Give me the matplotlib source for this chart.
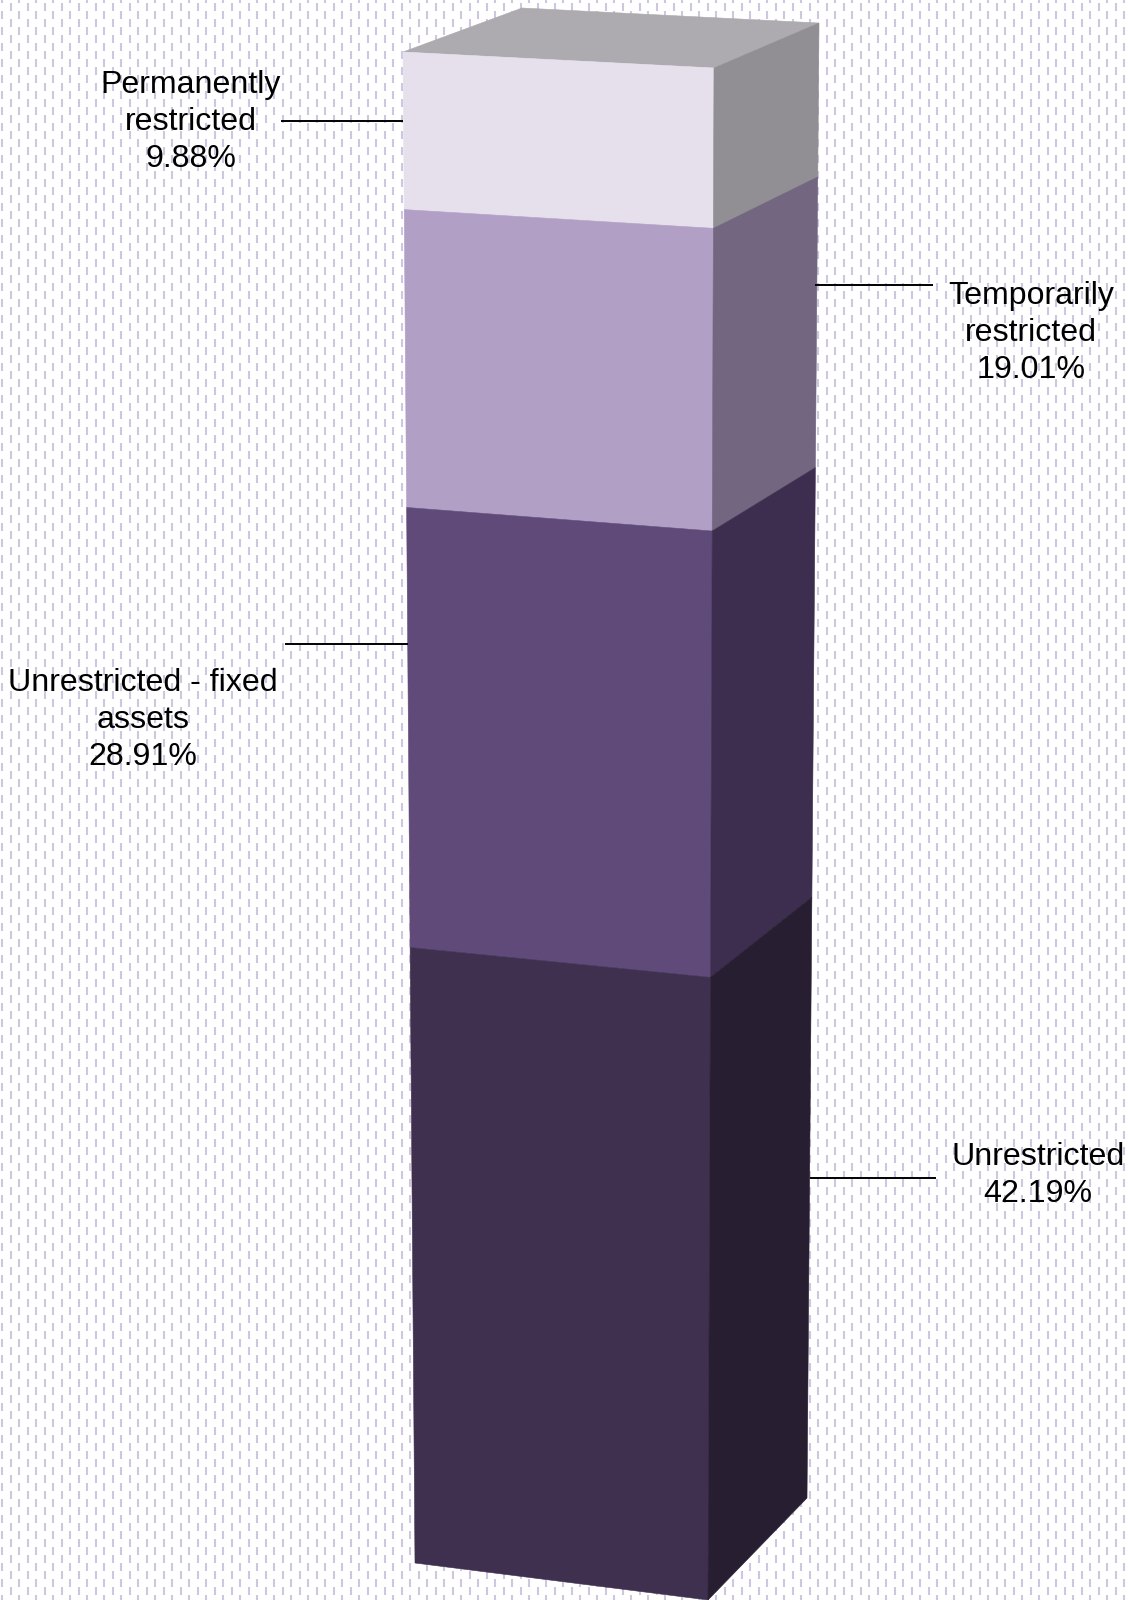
import matplotlib
matplotlib.use('Agg')
import matplotlib.pyplot as plt
from matplotlib.collections import LineCollection
from matplotlib.patches import Polygon

plt.rcParams['font.family'] = ['Liberation Sans', 'DejaVu Sans']

# top to bottom, same order as the column
labels = ['Permanently\nrestricted', 'Temporarily\nrestricted', 'Unrestricted - fixed\nassets', 'Unrestricted']
values = [9.88, 19.01, 28.91, 42.19]
front_colors = ['#E6E0ED', '#B19FC5', '#5F4A7A', '#3F3050']
side_colors = ['#918E94', '#726680', '#3D2D4E', '#271E32']

# pixel positions of the column edges (top point, bottom point, perspective)
front_left = ((403, 52), (415, 1563), 0.062)
front_right = ((714, 68), (708, 1600), 0.066)
back_right = ((819, 23), (807, 1498), 0.062)
back_left = (522, 8)

# label centre x and top y, leader line
label_pos = [(191, 70), (1031, 281), (143, 668), (1038, 1142)]
leaders = [((281, 120.5), (403, 120.5)), ((815, 285), (933, 285)),
           ((285, 644), (408, 644)), ((810, 1178), (936, 1178))]


def edge_point(edge, t):
    # t is the share of the total from the top, nearer values look bigger
    (x0, y0), (x1, y1), c = edge
    s = t * (1 + c) / (1 + c * t)
    return (x0 + (x1 - x0) * s, y0 + (y1 - y0) * s)


def add_face(points, color, zorder=3):
    ax.add_patch(Polygon(points, closed=True, facecolor=color, edgecolor=color,
                         linewidth=0.4, zorder=zorder))


fig = plt.figure(figsize=(11.29, 16), dpi=100, facecolor='white')
ax = fig.add_axes([0, 0, 1, 1])
ax.set_xlim(0, 1129)
ax.set_ylim(1600, 0)
ax.axis('off')

# dashed wallpaper behind everything
dashes = []
for col in range(0, 134):
    x = 2 + col * 8.5
    offset = 3 if col % 2 == 1 else 11
    for row in range(-1, 101):
        y = offset + row * 16
        dashes.append([(x, y), (x, y + 8)])
ax.add_collection(LineCollection(dashes, colors='#CFC6E0', linewidths=1.5, zorder=1))

# top of the column
add_face([front_left[0], back_left, back_right[0], front_right[0]], '#ADAAB0', zorder=2)

total = sum(values)
t = 0
for i, value in enumerate(values):
    t_next = t + value / total
    add_face([edge_point(front_left, t), edge_point(front_right, t),
              edge_point(front_right, t_next), edge_point(front_left, t_next)], front_colors[i])
    add_face([edge_point(front_right, t), edge_point(back_right, t),
              edge_point(back_right, t_next), edge_point(front_right, t_next)], side_colors[i])
    t = t_next

for i, label in enumerate(labels):
    (x0, y0), (x1, y1) = leaders[i]
    ax.plot([x0, x1], [y0, y1], color='black', linewidth=1.4, solid_capstyle='butt', zorder=4)
    ax.text(label_pos[i][0], label_pos[i][1], f'{label}\n{values[i]:.2f}%',
            ha='center', va='top', ma='center', fontsize=23.1, linespacing=1.31,
            color='black', zorder=5)

fig.savefig('out.png', dpi=100)
